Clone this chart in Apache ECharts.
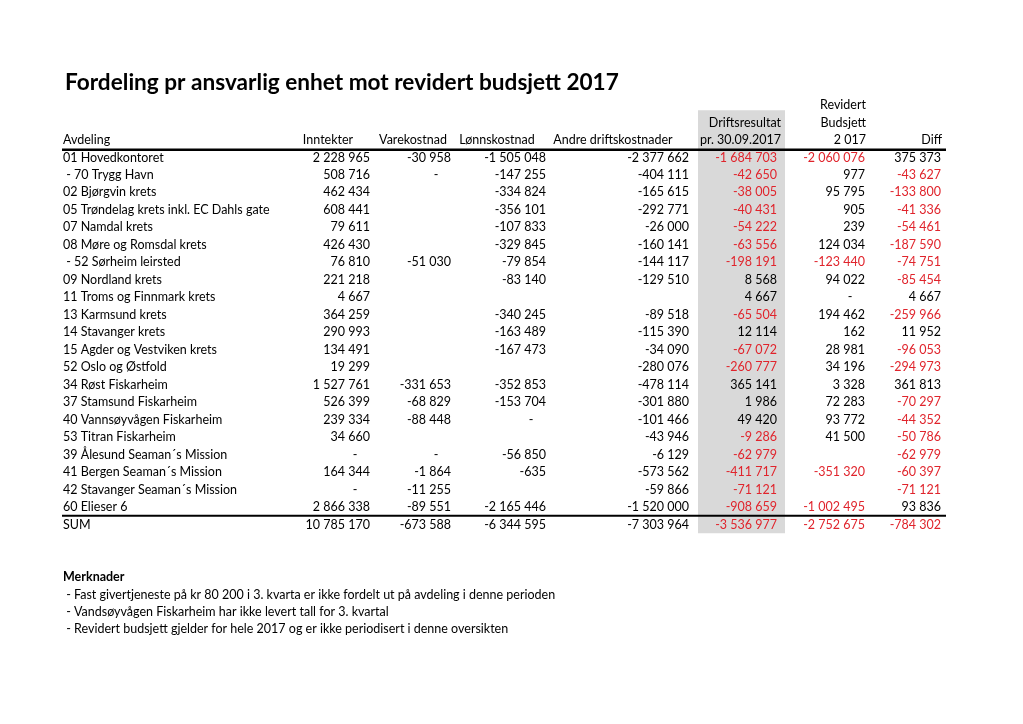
<!DOCTYPE html>
<html><head><meta charset="utf-8">
<script src="https://cdn.jsdelivr.net/npm/echarts@6/dist/echarts.min.js"></script>
<style>html,body{margin:0;padding:0;background:#fff}#c{width:1023px;height:724px}</style>
</head><body><div id="c"></div>
<script>
// ---------- DATA ----------
const chartTitle = 'Fordeling pr ansvarlig enhet mot revidert budsjett 2017';
const avdeling = [
  '01 Hovedkontoret', ' - 70 Trygg Havn', '02 Bjørgvin krets', '05 Trøndelag krets inkl. EC Dahls gate',
  '07 Namdal krets', '08 Møre og Romsdal krets', ' - 52 Sørheim leirsted', '09 Nordland krets',
  '11 Troms og Finnmark krets', '13 Karmsund krets', '14 Stavanger krets', '15 Agder og Vestviken krets',
  '52 Oslo og Østfold', '34 Røst Fiskarheim', '37 Stamsund Fiskarheim', '40 Vannsøyvågen Fiskarheim',
  '53 Titran Fiskarheim', '39 Ålesund Seaman´s Mission', '41 Bergen Seaman´s Mission',
  '42 Stavanger Seaman´s Mission', '60 Elieser 6'
];
const inntekter = [2228965, 508716, 462434, 608441, 79611, 426430, 76810, 221218, 4667, 364259, 290993, 134491, 19299, 1527761, 526399, 239334, 34660, 0, 164344, 0, 2866338];
const varekostnad = [-30958, 0, null, null, null, null, -51030, null, null, null, null, null, null, -331653, -68829, -88448, null, 0, -1864, -11255, -89551];
const lonnskostnad = [-1505048, -147255, -334824, -356101, -107833, -329845, -79854, -83140, null, -340245, -163489, -167473, null, -352853, -153704, 0, null, -56850, -635, null, -2165446];
const andreDrift = [-2377662, -404111, -165615, -292771, -26000, -160141, -144117, -129510, null, -89518, -115390, -34090, -280076, -478114, -301880, -101466, -43946, -6129, -573562, -59866, -1520000];
const driftsresultat = [-1684703, -42650, -38005, -40431, -54222, -63556, -198191, 8568, 4667, -65504, 12114, -67072, -260777, 365141, 1986, 49420, -9286, -62979, -411717, -71121, -908659];
const budsjett = [-2060076, 977, 95795, 905, 239, 124034, -123440, 94022, 0, 194462, 162, 28981, 34196, 3328, 72283, 93772, 41500, null, -351320, null, -1002495];
const diff = [375373, -43627, -133800, -41336, -54461, -187590, -74751, -85454, 4667, -259966, 11952, -96053, -294973, 361813, -70297, -44352, -50786, -62979, -60397, -71121, 93836];
const sumLabel = 'SUM';
const sumRow = [10785170, -673588, -6344595, -7303964, -3536977, -2752675, -784302];
const firstHeader = 'Avdeling';
const colHeaders = [['Inntekter'], ['Varekostnad'], ['Lønnskostnad'], ['Andre driftskostnader'],
  ['Driftsresultat', 'pr. 30.09.2017'], ['Revidert', 'Budsjett', '2 017'], ['Diff']];
const notesTitle = 'Merknader';
const notes = [
  ' - Fast givertjeneste på kr 80 200 i 3. kvarta er ikke fordelt ut på avdeling i denne perioden',
  ' - Vandsøyvågen Fiskarheim har ikke levert tall for 3. kvartal',
  ' - Revidert budsjett gjelder for hele 2017 og er ikke periodisert i denne oversikten'
];

// ---------- LAYOUT / STYLE ----------
const FONT = 'Lato';
const FS = 12.5;
const INK = '#000';
const RED = '#e0242c';
const colSeries = [inntekter, varekostnad, lonnskostnad, andreDrift, driftsresultat, budsjett, diff];
const colLayout = [
  {right: 370, headX: 328, headAlign: 'center', red: false},
  {right: 451, headX: 413, headAlign: 'center', red: false},
  {right: 546, headX: 497, headAlign: 'center', red: false},
  {right: 689, headX: 613, headAlign: 'center', red: false},
  {right: 777, headX: 781, headAlign: 'right', red: true},
  {right: 865, headX: 866, headAlign: 'right', red: true},
  {right: 941, headX: 942, headAlign: 'right', red: true}
];
const LEFT = 63, LINE_L = 62, LINE_R = 946, GREY_L = 698, GREY_R = 785;
const NOTES_ROW = 24;

function fmt(v) {
  if (v === 0) return '-';
  const s = Math.abs(v).toString().replace(/\B(?=(\d{3})+(?!\d))/g, ' ');
  return (v < 0 ? '-' : '') + s;
}
function txt(x, y, s, align, fill, bold) {
  return {type: 'text', x: x, y: y, style: {text: s, x: 0, y: 0, align: align, verticalAlign: 'middle',
    fill: fill || INK, font: (bold ? 'bold ' : '') + FS + 'px ' + FONT}};
}

const rowCount = avdeling.length + 1;
const rowIdx = Array.from({length: rowCount}, (_, i) => [0, i]);

const chart = echarts.init(document.getElementById('c'), null, {renderer: 'canvas'});
chart.setOption({
  backgroundColor: '#fff',
  animation: false,
  title: {text: chartTitle, left: 60, top: 66, textStyle: {fontFamily: FONT, fontWeight: 'bold', fontSize: 22.6, color: '#000'}},
  grid: {left: 0, right: 0, top: 96.3, height: 437},
  xAxis: {type: 'value', min: 0, max: 1023, show: false},
  yAxis: {type: 'value', inverse: true, min: -3.5, max: 21.5, show: false},
  series: [
    { // grey band + rules + headers + notes
      type: 'custom', data: [[0, 0]], silent: true, z: 1,
      renderItem: function (params, api) {
        const ch = [];
        const gTop = api.coord([GREY_L, -2.7]), gBot = api.coord([GREY_R, 21.5]);
        ch.push({type: 'rect', shape: {x: gTop[0], y: gTop[1], width: gBot[0] - gTop[0], height: gBot[1] - gTop[1]},
          style: {fill: '#d9d9d9'}});
        const yH = api.coord([0, -0.5])[1] + 1;
        const yS = api.coord([0, avdeling.length - 0.5])[1];
        ch.push({type: 'line', shape: {x1: LINE_L, y1: yH, x2: LINE_R, y2: yH}, style: {stroke: '#000', lineWidth: 2.5}});
        ch.push({type: 'line', shape: {x1: LINE_L, y1: yS, x2: LINE_R, y2: yS}, style: {stroke: '#000', lineWidth: 2}});
        ch.push(txt(LEFT, api.coord([0, -1])[1], firstHeader, 'left'));
        colHeaders.forEach(function (lines, c) {
          lines.forEach(function (s, k) {
            const r = -lines.length + k;
            ch.push(txt(colLayout[c].headX, api.coord([0, r])[1], s, colLayout[c].headAlign));
          });
        });
        ch.push(txt(LEFT, api.coord([0, NOTES_ROW])[1], notesTitle, 'left', INK, true));
        notes.forEach(function (s, k) {
          ch.push(txt(LEFT, api.coord([0, NOTES_ROW + 1 + k])[1], s, 'left'));
        });
        return {type: 'group', children: ch};
      }
    },
    { // table rows
      type: 'custom', data: rowIdx, silent: true, z: 2,
      renderItem: function (params, api) {
        const i = params.dataIndex;
        const y = api.coord([0, i])[1];
        const isSum = i === avdeling.length;
        const ch = [txt(LEFT, y, isSum ? sumLabel : avdeling[i], 'left')];
        colSeries.forEach(function (arr, c) {
          const v = isSum ? sumRow[c] : arr[i];
          if (v === null || v === undefined) return;
          const L = colLayout[c];
          if (v === 0) { ch.push(txt(L.right - 15, y, '-', 'center')); return; }
          ch.push(txt(L.right, y, fmt(v), 'right', (L.red && v < 0) ? RED : INK));
        });
        return {type: 'group', children: ch};
      }
    }
  ]
});
</script>
</body></html>
